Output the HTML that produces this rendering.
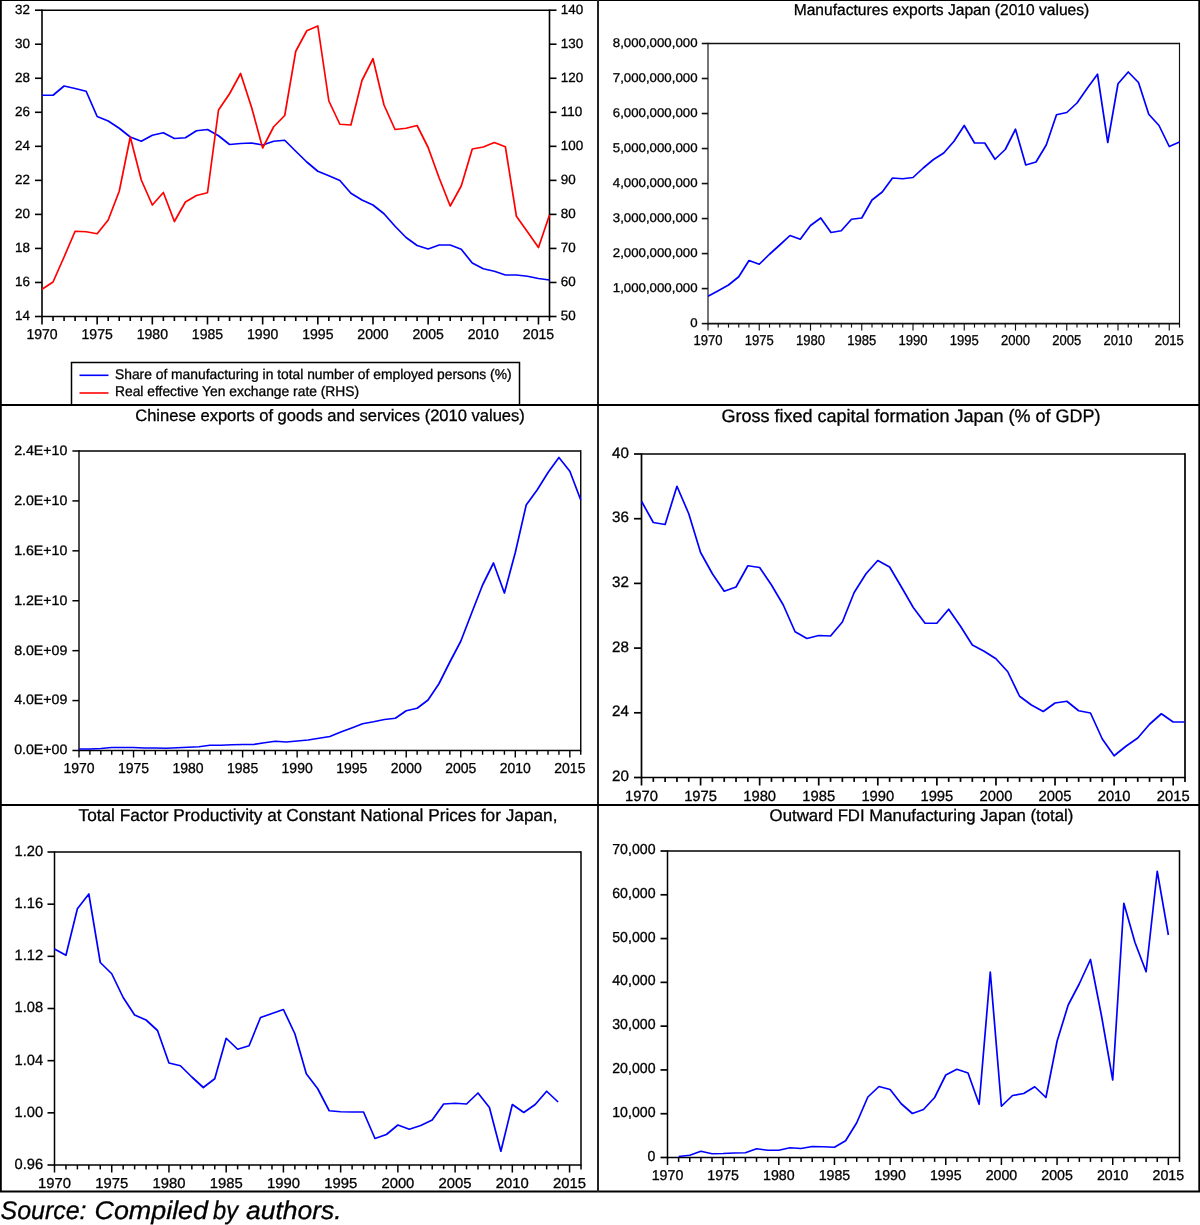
<!DOCTYPE html><html><head><meta charset="utf-8"><title>chart</title><style>
html,body{margin:0;padding:0;background:#fff;}body{width:1200px;height:1225px;overflow:hidden;position:relative;}
svg{position:absolute;left:0;top:0;will-change:transform;} text{font-family:"Liberation Sans", sans-serif;fill:#000;text-rendering:geometricPrecision;stroke:#000;stroke-width:0.3px;}
</style></head><body>
<svg width="1200" height="1225" viewBox="0 0 1200 1225">
<rect x="0" y="0" width="1200" height="1225" fill="#fff"/>
<line x1="42.00" y1="9.40" x2="42.00" y2="317.30" stroke="#000" stroke-width="1.6"/>
<line x1="549.50" y1="9.40" x2="549.50" y2="317.30" stroke="#000" stroke-width="1.6"/>
<line x1="42.00" y1="10.20" x2="549.50" y2="10.20" stroke="#000" stroke-width="1.6"/>
<line x1="42.00" y1="316.50" x2="549.50" y2="316.50" stroke="#000" stroke-width="1.6"/>
<line x1="35.00" y1="316.50" x2="42.00" y2="316.50" stroke="#000" stroke-width="1.6"/>
<text x="30.00" y="319.94" font-size="13.4" text-anchor="end" >14</text>
<line x1="35.00" y1="282.47" x2="42.00" y2="282.47" stroke="#000" stroke-width="1.6"/>
<text x="30.00" y="285.91" font-size="13.4" text-anchor="end" >16</text>
<line x1="35.00" y1="248.43" x2="42.00" y2="248.43" stroke="#000" stroke-width="1.6"/>
<text x="30.00" y="251.88" font-size="13.4" text-anchor="end" >18</text>
<line x1="35.00" y1="214.40" x2="42.00" y2="214.40" stroke="#000" stroke-width="1.6"/>
<text x="30.00" y="217.84" font-size="13.4" text-anchor="end" >20</text>
<line x1="35.00" y1="180.37" x2="42.00" y2="180.37" stroke="#000" stroke-width="1.6"/>
<text x="30.00" y="183.81" font-size="13.4" text-anchor="end" >22</text>
<line x1="35.00" y1="146.33" x2="42.00" y2="146.33" stroke="#000" stroke-width="1.6"/>
<text x="30.00" y="149.78" font-size="13.4" text-anchor="end" >24</text>
<line x1="35.00" y1="112.30" x2="42.00" y2="112.30" stroke="#000" stroke-width="1.6"/>
<text x="30.00" y="115.74" font-size="13.4" text-anchor="end" >26</text>
<line x1="35.00" y1="78.27" x2="42.00" y2="78.27" stroke="#000" stroke-width="1.6"/>
<text x="30.00" y="81.71" font-size="13.4" text-anchor="end" >28</text>
<line x1="35.00" y1="44.23" x2="42.00" y2="44.23" stroke="#000" stroke-width="1.6"/>
<text x="30.00" y="47.68" font-size="13.4" text-anchor="end" >30</text>
<line x1="35.00" y1="10.20" x2="42.00" y2="10.20" stroke="#000" stroke-width="1.6"/>
<text x="30.00" y="13.64" font-size="13.4" text-anchor="end" >32</text>
<line x1="549.50" y1="316.50" x2="556.50" y2="316.50" stroke="#000" stroke-width="1.6"/>
<text x="560.80" y="319.94" font-size="13.4" text-anchor="start" >50</text>
<line x1="549.50" y1="282.47" x2="556.50" y2="282.47" stroke="#000" stroke-width="1.6"/>
<text x="560.80" y="285.91" font-size="13.4" text-anchor="start" >60</text>
<line x1="549.50" y1="248.43" x2="556.50" y2="248.43" stroke="#000" stroke-width="1.6"/>
<text x="560.80" y="251.88" font-size="13.4" text-anchor="start" >70</text>
<line x1="549.50" y1="214.40" x2="556.50" y2="214.40" stroke="#000" stroke-width="1.6"/>
<text x="560.80" y="217.84" font-size="13.4" text-anchor="start" >80</text>
<line x1="549.50" y1="180.37" x2="556.50" y2="180.37" stroke="#000" stroke-width="1.6"/>
<text x="560.80" y="183.81" font-size="13.4" text-anchor="start" >90</text>
<line x1="549.50" y1="146.33" x2="556.50" y2="146.33" stroke="#000" stroke-width="1.6"/>
<text x="560.80" y="149.78" font-size="13.4" text-anchor="start" >100</text>
<line x1="549.50" y1="112.30" x2="556.50" y2="112.30" stroke="#000" stroke-width="1.6"/>
<text x="560.80" y="115.74" font-size="13.4" text-anchor="start" >110</text>
<line x1="549.50" y1="78.27" x2="556.50" y2="78.27" stroke="#000" stroke-width="1.6"/>
<text x="560.80" y="81.71" font-size="13.4" text-anchor="start" >120</text>
<line x1="549.50" y1="44.23" x2="556.50" y2="44.23" stroke="#000" stroke-width="1.6"/>
<text x="560.80" y="47.68" font-size="13.4" text-anchor="start" >130</text>
<line x1="549.50" y1="10.20" x2="556.50" y2="10.20" stroke="#000" stroke-width="1.6"/>
<text x="560.80" y="13.64" font-size="13.4" text-anchor="start" >140</text>
<line x1="42.00" y1="316.50" x2="42.00" y2="324.50" stroke="#000" stroke-width="1.6"/>
<text transform="translate(42.00,339.00) scale(0.99,1)" font-size="14.2" text-anchor="middle" >1970</text>
<line x1="53.03" y1="316.50" x2="53.03" y2="321.00" stroke="#000" stroke-width="1.6"/>
<line x1="64.07" y1="316.50" x2="64.07" y2="321.00" stroke="#000" stroke-width="1.6"/>
<line x1="75.10" y1="316.50" x2="75.10" y2="321.00" stroke="#000" stroke-width="1.6"/>
<line x1="86.13" y1="316.50" x2="86.13" y2="321.00" stroke="#000" stroke-width="1.6"/>
<line x1="97.16" y1="316.50" x2="97.16" y2="324.50" stroke="#000" stroke-width="1.6"/>
<text transform="translate(97.16,339.00) scale(0.99,1)" font-size="14.2" text-anchor="middle" >1975</text>
<line x1="108.20" y1="316.50" x2="108.20" y2="321.00" stroke="#000" stroke-width="1.6"/>
<line x1="119.23" y1="316.50" x2="119.23" y2="321.00" stroke="#000" stroke-width="1.6"/>
<line x1="130.26" y1="316.50" x2="130.26" y2="321.00" stroke="#000" stroke-width="1.6"/>
<line x1="141.29" y1="316.50" x2="141.29" y2="321.00" stroke="#000" stroke-width="1.6"/>
<line x1="152.33" y1="316.50" x2="152.33" y2="324.50" stroke="#000" stroke-width="1.6"/>
<text transform="translate(152.33,339.00) scale(0.99,1)" font-size="14.2" text-anchor="middle" >1980</text>
<line x1="163.36" y1="316.50" x2="163.36" y2="321.00" stroke="#000" stroke-width="1.6"/>
<line x1="174.39" y1="316.50" x2="174.39" y2="321.00" stroke="#000" stroke-width="1.6"/>
<line x1="185.42" y1="316.50" x2="185.42" y2="321.00" stroke="#000" stroke-width="1.6"/>
<line x1="196.46" y1="316.50" x2="196.46" y2="321.00" stroke="#000" stroke-width="1.6"/>
<line x1="207.49" y1="316.50" x2="207.49" y2="324.50" stroke="#000" stroke-width="1.6"/>
<text transform="translate(207.49,339.00) scale(0.99,1)" font-size="14.2" text-anchor="middle" >1985</text>
<line x1="218.52" y1="316.50" x2="218.52" y2="321.00" stroke="#000" stroke-width="1.6"/>
<line x1="229.55" y1="316.50" x2="229.55" y2="321.00" stroke="#000" stroke-width="1.6"/>
<line x1="240.59" y1="316.50" x2="240.59" y2="321.00" stroke="#000" stroke-width="1.6"/>
<line x1="251.62" y1="316.50" x2="251.62" y2="321.00" stroke="#000" stroke-width="1.6"/>
<line x1="262.65" y1="316.50" x2="262.65" y2="324.50" stroke="#000" stroke-width="1.6"/>
<text transform="translate(262.65,339.00) scale(0.99,1)" font-size="14.2" text-anchor="middle" >1990</text>
<line x1="273.68" y1="316.50" x2="273.68" y2="321.00" stroke="#000" stroke-width="1.6"/>
<line x1="284.72" y1="316.50" x2="284.72" y2="321.00" stroke="#000" stroke-width="1.6"/>
<line x1="295.75" y1="316.50" x2="295.75" y2="321.00" stroke="#000" stroke-width="1.6"/>
<line x1="306.78" y1="316.50" x2="306.78" y2="321.00" stroke="#000" stroke-width="1.6"/>
<line x1="317.82" y1="316.50" x2="317.82" y2="324.50" stroke="#000" stroke-width="1.6"/>
<text transform="translate(317.82,339.00) scale(0.99,1)" font-size="14.2" text-anchor="middle" >1995</text>
<line x1="328.85" y1="316.50" x2="328.85" y2="321.00" stroke="#000" stroke-width="1.6"/>
<line x1="339.88" y1="316.50" x2="339.88" y2="321.00" stroke="#000" stroke-width="1.6"/>
<line x1="350.91" y1="316.50" x2="350.91" y2="321.00" stroke="#000" stroke-width="1.6"/>
<line x1="361.95" y1="316.50" x2="361.95" y2="321.00" stroke="#000" stroke-width="1.6"/>
<line x1="372.98" y1="316.50" x2="372.98" y2="324.50" stroke="#000" stroke-width="1.6"/>
<text transform="translate(372.98,339.00) scale(0.99,1)" font-size="14.2" text-anchor="middle" >2000</text>
<line x1="384.01" y1="316.50" x2="384.01" y2="321.00" stroke="#000" stroke-width="1.6"/>
<line x1="395.04" y1="316.50" x2="395.04" y2="321.00" stroke="#000" stroke-width="1.6"/>
<line x1="406.08" y1="316.50" x2="406.08" y2="321.00" stroke="#000" stroke-width="1.6"/>
<line x1="417.11" y1="316.50" x2="417.11" y2="321.00" stroke="#000" stroke-width="1.6"/>
<line x1="428.14" y1="316.50" x2="428.14" y2="324.50" stroke="#000" stroke-width="1.6"/>
<text transform="translate(428.14,339.00) scale(0.99,1)" font-size="14.2" text-anchor="middle" >2005</text>
<line x1="439.17" y1="316.50" x2="439.17" y2="321.00" stroke="#000" stroke-width="1.6"/>
<line x1="450.21" y1="316.50" x2="450.21" y2="321.00" stroke="#000" stroke-width="1.6"/>
<line x1="461.24" y1="316.50" x2="461.24" y2="321.00" stroke="#000" stroke-width="1.6"/>
<line x1="472.27" y1="316.50" x2="472.27" y2="321.00" stroke="#000" stroke-width="1.6"/>
<line x1="483.30" y1="316.50" x2="483.30" y2="324.50" stroke="#000" stroke-width="1.6"/>
<text transform="translate(483.30,339.00) scale(0.99,1)" font-size="14.2" text-anchor="middle" >2010</text>
<line x1="494.34" y1="316.50" x2="494.34" y2="321.00" stroke="#000" stroke-width="1.6"/>
<line x1="505.37" y1="316.50" x2="505.37" y2="321.00" stroke="#000" stroke-width="1.6"/>
<line x1="516.40" y1="316.50" x2="516.40" y2="321.00" stroke="#000" stroke-width="1.6"/>
<line x1="527.43" y1="316.50" x2="527.43" y2="321.00" stroke="#000" stroke-width="1.6"/>
<line x1="538.47" y1="316.50" x2="538.47" y2="324.50" stroke="#000" stroke-width="1.6"/>
<text transform="translate(538.47,339.00) scale(0.99,1)" font-size="14.2" text-anchor="middle" >2015</text>
<line x1="549.50" y1="316.50" x2="549.50" y2="321.00" stroke="#000" stroke-width="1.6"/>
<polyline points="42.00,95.25 53.03,95.25 64.07,86.00 75.10,88.50 86.13,91.25 97.16,116.50 108.20,121.00 119.23,128.25 130.26,137.00 141.29,141.25 152.33,135.25 163.36,132.75 174.39,138.50 185.42,137.75 196.46,130.75 207.49,129.50 218.52,135.75 229.55,144.50 240.59,143.50 251.62,143.00 262.65,145.00 273.68,141.25 284.72,140.25 295.75,151.25 306.78,162.00 317.82,171.25 328.85,175.75 339.88,180.50 350.91,193.25 361.95,200.00 372.98,205.00 384.01,213.75 395.04,226.25 406.08,237.50 417.11,245.50 428.14,249.00 439.17,245.00 450.21,245.00 461.24,249.25 472.27,263.00 483.30,268.75 494.34,271.25 505.37,275.00 516.40,275.00 527.43,276.25 538.47,278.50 549.50,280.00" fill="none" stroke="#0000ff" stroke-width="1.7" stroke-linejoin="round" stroke-linecap="butt"/>
<polyline points="42.00,289.25 53.03,282.00 64.07,257.00 75.10,231.25 86.13,231.75 97.16,233.75 108.20,220.00 119.23,191.25 130.26,137.00 141.29,180.00 152.33,205.00 163.36,192.50 174.39,221.50 185.42,202.00 196.46,195.50 207.49,192.75 218.52,110.00 229.55,93.75 240.59,73.50 251.62,107.50 262.65,148.00 273.68,126.75 284.72,115.50 295.75,51.25 306.78,30.75 317.82,26.00 328.85,101.00 339.88,124.25 350.91,125.00 361.95,80.50 372.98,58.75 384.01,105.00 395.04,129.50 406.08,128.25 417.11,125.50 428.14,147.50 439.17,178.00 450.21,206.00 461.24,186.00 472.27,149.00 483.30,147.00 494.34,142.50 505.37,146.75 516.40,216.25 527.43,231.75 538.47,247.50 549.50,215.00" fill="none" stroke="#ff0000" stroke-width="1.7" stroke-linejoin="round" stroke-linecap="butt"/>
<line x1="708.00" y1="42.70" x2="708.00" y2="324.40" stroke="#111" stroke-width="1.15"/>
<line x1="1179.50" y1="42.70" x2="1179.50" y2="324.40" stroke="#111" stroke-width="1.15"/>
<line x1="708.00" y1="43.50" x2="1179.50" y2="43.50" stroke="#111" stroke-width="1.6"/>
<line x1="708.00" y1="323.60" x2="1179.50" y2="323.60" stroke="#111" stroke-width="1.6"/>
<line x1="701.75" y1="323.60" x2="708.00" y2="323.60" stroke="#111" stroke-width="1.6"/>
<text transform="translate(697.55,327.30) scale(1.045,1)" font-size="12.7" text-anchor="end" >0</text>
<line x1="701.75" y1="288.59" x2="708.00" y2="288.59" stroke="#111" stroke-width="1.6"/>
<text transform="translate(697.55,292.28) scale(1.045,1)" font-size="12.7" text-anchor="end" >1,000,000,000</text>
<line x1="701.75" y1="253.58" x2="708.00" y2="253.58" stroke="#111" stroke-width="1.6"/>
<text transform="translate(697.55,257.27) scale(1.045,1)" font-size="12.7" text-anchor="end" >2,000,000,000</text>
<line x1="701.75" y1="218.56" x2="708.00" y2="218.56" stroke="#111" stroke-width="1.6"/>
<text transform="translate(697.55,222.26) scale(1.045,1)" font-size="12.7" text-anchor="end" >3,000,000,000</text>
<line x1="701.75" y1="183.55" x2="708.00" y2="183.55" stroke="#111" stroke-width="1.6"/>
<text transform="translate(697.55,187.25) scale(1.045,1)" font-size="12.7" text-anchor="end" >4,000,000,000</text>
<line x1="701.75" y1="148.54" x2="708.00" y2="148.54" stroke="#111" stroke-width="1.6"/>
<text transform="translate(697.55,152.23) scale(1.045,1)" font-size="12.7" text-anchor="end" >5,000,000,000</text>
<line x1="701.75" y1="113.53" x2="708.00" y2="113.53" stroke="#111" stroke-width="1.6"/>
<text transform="translate(697.55,117.22) scale(1.045,1)" font-size="12.7" text-anchor="end" >6,000,000,000</text>
<line x1="701.75" y1="78.51" x2="708.00" y2="78.51" stroke="#111" stroke-width="1.6"/>
<text transform="translate(697.55,82.21) scale(1.045,1)" font-size="12.7" text-anchor="end" >7,000,000,000</text>
<line x1="701.75" y1="43.50" x2="708.00" y2="43.50" stroke="#111" stroke-width="1.6"/>
<text transform="translate(697.55,47.20) scale(1.045,1)" font-size="12.7" text-anchor="end" >8,000,000,000</text>
<line x1="708.00" y1="323.60" x2="708.00" y2="330.60" stroke="#111" stroke-width="1.15"/>
<text transform="translate(708.00,344.50) scale(0.92,1)" font-size="14.2" text-anchor="middle" >1970</text>
<line x1="718.25" y1="323.60" x2="718.25" y2="327.60" stroke="#111" stroke-width="1.15"/>
<line x1="728.50" y1="323.60" x2="728.50" y2="327.60" stroke="#111" stroke-width="1.15"/>
<line x1="738.75" y1="323.60" x2="738.75" y2="327.60" stroke="#111" stroke-width="1.15"/>
<line x1="749.00" y1="323.60" x2="749.00" y2="327.60" stroke="#111" stroke-width="1.15"/>
<line x1="759.25" y1="323.60" x2="759.25" y2="330.60" stroke="#111" stroke-width="1.15"/>
<text transform="translate(759.25,344.50) scale(0.92,1)" font-size="14.2" text-anchor="middle" >1975</text>
<line x1="769.50" y1="323.60" x2="769.50" y2="327.60" stroke="#111" stroke-width="1.15"/>
<line x1="779.75" y1="323.60" x2="779.75" y2="327.60" stroke="#111" stroke-width="1.15"/>
<line x1="790.00" y1="323.60" x2="790.00" y2="327.60" stroke="#111" stroke-width="1.15"/>
<line x1="800.25" y1="323.60" x2="800.25" y2="327.60" stroke="#111" stroke-width="1.15"/>
<line x1="810.50" y1="323.60" x2="810.50" y2="330.60" stroke="#111" stroke-width="1.15"/>
<text transform="translate(810.50,344.50) scale(0.92,1)" font-size="14.2" text-anchor="middle" >1980</text>
<line x1="820.75" y1="323.60" x2="820.75" y2="327.60" stroke="#111" stroke-width="1.15"/>
<line x1="831.00" y1="323.60" x2="831.00" y2="327.60" stroke="#111" stroke-width="1.15"/>
<line x1="841.25" y1="323.60" x2="841.25" y2="327.60" stroke="#111" stroke-width="1.15"/>
<line x1="851.50" y1="323.60" x2="851.50" y2="327.60" stroke="#111" stroke-width="1.15"/>
<line x1="861.75" y1="323.60" x2="861.75" y2="330.60" stroke="#111" stroke-width="1.15"/>
<text transform="translate(861.75,344.50) scale(0.92,1)" font-size="14.2" text-anchor="middle" >1985</text>
<line x1="872.00" y1="323.60" x2="872.00" y2="327.60" stroke="#111" stroke-width="1.15"/>
<line x1="882.25" y1="323.60" x2="882.25" y2="327.60" stroke="#111" stroke-width="1.15"/>
<line x1="892.50" y1="323.60" x2="892.50" y2="327.60" stroke="#111" stroke-width="1.15"/>
<line x1="902.75" y1="323.60" x2="902.75" y2="327.60" stroke="#111" stroke-width="1.15"/>
<line x1="913.00" y1="323.60" x2="913.00" y2="330.60" stroke="#111" stroke-width="1.15"/>
<text transform="translate(913.00,344.50) scale(0.92,1)" font-size="14.2" text-anchor="middle" >1990</text>
<line x1="923.25" y1="323.60" x2="923.25" y2="327.60" stroke="#111" stroke-width="1.15"/>
<line x1="933.50" y1="323.60" x2="933.50" y2="327.60" stroke="#111" stroke-width="1.15"/>
<line x1="943.75" y1="323.60" x2="943.75" y2="327.60" stroke="#111" stroke-width="1.15"/>
<line x1="954.00" y1="323.60" x2="954.00" y2="327.60" stroke="#111" stroke-width="1.15"/>
<line x1="964.25" y1="323.60" x2="964.25" y2="330.60" stroke="#111" stroke-width="1.15"/>
<text transform="translate(964.25,344.50) scale(0.92,1)" font-size="14.2" text-anchor="middle" >1995</text>
<line x1="974.50" y1="323.60" x2="974.50" y2="327.60" stroke="#111" stroke-width="1.15"/>
<line x1="984.75" y1="323.60" x2="984.75" y2="327.60" stroke="#111" stroke-width="1.15"/>
<line x1="995.00" y1="323.60" x2="995.00" y2="327.60" stroke="#111" stroke-width="1.15"/>
<line x1="1005.25" y1="323.60" x2="1005.25" y2="327.60" stroke="#111" stroke-width="1.15"/>
<line x1="1015.50" y1="323.60" x2="1015.50" y2="330.60" stroke="#111" stroke-width="1.15"/>
<text transform="translate(1015.50,344.50) scale(0.92,1)" font-size="14.2" text-anchor="middle" >2000</text>
<line x1="1025.75" y1="323.60" x2="1025.75" y2="327.60" stroke="#111" stroke-width="1.15"/>
<line x1="1036.00" y1="323.60" x2="1036.00" y2="327.60" stroke="#111" stroke-width="1.15"/>
<line x1="1046.25" y1="323.60" x2="1046.25" y2="327.60" stroke="#111" stroke-width="1.15"/>
<line x1="1056.50" y1="323.60" x2="1056.50" y2="327.60" stroke="#111" stroke-width="1.15"/>
<line x1="1066.75" y1="323.60" x2="1066.75" y2="330.60" stroke="#111" stroke-width="1.15"/>
<text transform="translate(1066.75,344.50) scale(0.92,1)" font-size="14.2" text-anchor="middle" >2005</text>
<line x1="1077.00" y1="323.60" x2="1077.00" y2="327.60" stroke="#111" stroke-width="1.15"/>
<line x1="1087.25" y1="323.60" x2="1087.25" y2="327.60" stroke="#111" stroke-width="1.15"/>
<line x1="1097.50" y1="323.60" x2="1097.50" y2="327.60" stroke="#111" stroke-width="1.15"/>
<line x1="1107.75" y1="323.60" x2="1107.75" y2="327.60" stroke="#111" stroke-width="1.15"/>
<line x1="1118.00" y1="323.60" x2="1118.00" y2="330.60" stroke="#111" stroke-width="1.15"/>
<text transform="translate(1118.00,344.50) scale(0.92,1)" font-size="14.2" text-anchor="middle" >2010</text>
<line x1="1128.25" y1="323.60" x2="1128.25" y2="327.60" stroke="#111" stroke-width="1.15"/>
<line x1="1138.50" y1="323.60" x2="1138.50" y2="327.60" stroke="#111" stroke-width="1.15"/>
<line x1="1148.75" y1="323.60" x2="1148.75" y2="327.60" stroke="#111" stroke-width="1.15"/>
<line x1="1159.00" y1="323.60" x2="1159.00" y2="327.60" stroke="#111" stroke-width="1.15"/>
<line x1="1169.25" y1="323.60" x2="1169.25" y2="330.60" stroke="#111" stroke-width="1.15"/>
<text transform="translate(1169.25,344.50) scale(0.92,1)" font-size="14.2" text-anchor="middle" >2015</text>
<line x1="1179.50" y1="323.60" x2="1179.50" y2="327.60" stroke="#111" stroke-width="1.15"/>
<text x="941.50" y="14.70" font-size="15.6" text-anchor="middle" >Manufactures exports Japan (2010 values)</text>
<polyline points="708.00,296.25 718.25,290.75 728.50,285.00 738.75,276.75 749.00,260.50 759.25,264.25 769.50,254.25 779.75,245.00 790.00,235.50 800.25,239.25 810.50,225.50 820.75,218.00 831.00,232.50 841.25,230.75 851.50,219.25 861.75,218.00 872.00,200.00 882.25,192.00 892.50,178.00 902.75,178.75 913.00,177.50 923.25,168.00 933.50,159.50 943.75,153.00 954.00,141.25 964.25,125.50 974.50,143.00 984.75,143.00 995.00,159.25 1005.25,149.50 1015.50,129.25 1025.75,165.00 1036.00,162.00 1046.25,145.00 1056.50,114.75 1066.75,112.50 1077.00,103.00 1087.25,88.25 1097.50,74.25 1107.75,142.50 1118.00,83.75 1128.25,72.00 1138.50,82.50 1148.75,114.25 1159.00,125.50 1169.25,146.50 1179.50,142.00" fill="none" stroke="#0000ff" stroke-width="1.7" stroke-linejoin="round" stroke-linecap="butt"/>
<line x1="79.00" y1="450.25" x2="79.00" y2="751.25" stroke="#000" stroke-width="1.4"/>
<line x1="580.75" y1="450.25" x2="580.75" y2="751.25" stroke="#000" stroke-width="1.4"/>
<line x1="79.00" y1="451.00" x2="580.75" y2="451.00" stroke="#000" stroke-width="1.5"/>
<line x1="79.00" y1="750.50" x2="580.75" y2="750.50" stroke="#000" stroke-width="1.5"/>
<line x1="72.40" y1="750.50" x2="79.00" y2="750.50" stroke="#000" stroke-width="1.5"/>
<text transform="translate(67.40,754.33) scale(1.04,1)" font-size="13.65" text-anchor="end" >0.0E+00</text>
<line x1="72.40" y1="700.58" x2="79.00" y2="700.58" stroke="#000" stroke-width="1.5"/>
<text transform="translate(67.40,704.42) scale(1.04,1)" font-size="13.65" text-anchor="end" >4.0E+09</text>
<line x1="72.40" y1="650.67" x2="79.00" y2="650.67" stroke="#000" stroke-width="1.5"/>
<text transform="translate(67.40,654.50) scale(1.04,1)" font-size="13.65" text-anchor="end" >8.0E+09</text>
<line x1="72.40" y1="600.75" x2="79.00" y2="600.75" stroke="#000" stroke-width="1.5"/>
<text transform="translate(67.40,604.58) scale(1.04,1)" font-size="13.65" text-anchor="end" >1.2E+10</text>
<line x1="72.40" y1="550.83" x2="79.00" y2="550.83" stroke="#000" stroke-width="1.5"/>
<text transform="translate(67.40,554.67) scale(1.04,1)" font-size="13.65" text-anchor="end" >1.6E+10</text>
<line x1="72.40" y1="500.92" x2="79.00" y2="500.92" stroke="#000" stroke-width="1.5"/>
<text transform="translate(67.40,504.75) scale(1.04,1)" font-size="13.65" text-anchor="end" >2.0E+10</text>
<line x1="72.40" y1="451.00" x2="79.00" y2="451.00" stroke="#000" stroke-width="1.5"/>
<text transform="translate(67.40,454.83) scale(1.04,1)" font-size="13.65" text-anchor="end" >2.4E+10</text>
<line x1="79.00" y1="750.50" x2="79.00" y2="757.50" stroke="#000" stroke-width="1.4"/>
<text transform="translate(79.00,772.50) scale(0.965,1)" font-size="14.5" text-anchor="middle" >1970</text>
<line x1="89.91" y1="750.50" x2="89.91" y2="754.75" stroke="#000" stroke-width="1.4"/>
<line x1="100.82" y1="750.50" x2="100.82" y2="754.75" stroke="#000" stroke-width="1.4"/>
<line x1="111.72" y1="750.50" x2="111.72" y2="754.75" stroke="#000" stroke-width="1.4"/>
<line x1="122.63" y1="750.50" x2="122.63" y2="754.75" stroke="#000" stroke-width="1.4"/>
<line x1="133.54" y1="750.50" x2="133.54" y2="757.50" stroke="#000" stroke-width="1.4"/>
<text transform="translate(133.54,772.50) scale(0.965,1)" font-size="14.5" text-anchor="middle" >1975</text>
<line x1="144.45" y1="750.50" x2="144.45" y2="754.75" stroke="#000" stroke-width="1.4"/>
<line x1="155.35" y1="750.50" x2="155.35" y2="754.75" stroke="#000" stroke-width="1.4"/>
<line x1="166.26" y1="750.50" x2="166.26" y2="754.75" stroke="#000" stroke-width="1.4"/>
<line x1="177.17" y1="750.50" x2="177.17" y2="754.75" stroke="#000" stroke-width="1.4"/>
<line x1="188.08" y1="750.50" x2="188.08" y2="757.50" stroke="#000" stroke-width="1.4"/>
<text transform="translate(188.08,772.50) scale(0.965,1)" font-size="14.5" text-anchor="middle" >1980</text>
<line x1="198.98" y1="750.50" x2="198.98" y2="754.75" stroke="#000" stroke-width="1.4"/>
<line x1="209.89" y1="750.50" x2="209.89" y2="754.75" stroke="#000" stroke-width="1.4"/>
<line x1="220.80" y1="750.50" x2="220.80" y2="754.75" stroke="#000" stroke-width="1.4"/>
<line x1="231.71" y1="750.50" x2="231.71" y2="754.75" stroke="#000" stroke-width="1.4"/>
<line x1="242.61" y1="750.50" x2="242.61" y2="757.50" stroke="#000" stroke-width="1.4"/>
<text transform="translate(242.61,772.50) scale(0.965,1)" font-size="14.5" text-anchor="middle" >1985</text>
<line x1="253.52" y1="750.50" x2="253.52" y2="754.75" stroke="#000" stroke-width="1.4"/>
<line x1="264.43" y1="750.50" x2="264.43" y2="754.75" stroke="#000" stroke-width="1.4"/>
<line x1="275.34" y1="750.50" x2="275.34" y2="754.75" stroke="#000" stroke-width="1.4"/>
<line x1="286.24" y1="750.50" x2="286.24" y2="754.75" stroke="#000" stroke-width="1.4"/>
<line x1="297.15" y1="750.50" x2="297.15" y2="757.50" stroke="#000" stroke-width="1.4"/>
<text transform="translate(297.15,772.50) scale(0.965,1)" font-size="14.5" text-anchor="middle" >1990</text>
<line x1="308.06" y1="750.50" x2="308.06" y2="754.75" stroke="#000" stroke-width="1.4"/>
<line x1="318.97" y1="750.50" x2="318.97" y2="754.75" stroke="#000" stroke-width="1.4"/>
<line x1="329.88" y1="750.50" x2="329.88" y2="754.75" stroke="#000" stroke-width="1.4"/>
<line x1="340.78" y1="750.50" x2="340.78" y2="754.75" stroke="#000" stroke-width="1.4"/>
<line x1="351.69" y1="750.50" x2="351.69" y2="757.50" stroke="#000" stroke-width="1.4"/>
<text transform="translate(351.69,772.50) scale(0.965,1)" font-size="14.5" text-anchor="middle" >1995</text>
<line x1="362.60" y1="750.50" x2="362.60" y2="754.75" stroke="#000" stroke-width="1.4"/>
<line x1="373.51" y1="750.50" x2="373.51" y2="754.75" stroke="#000" stroke-width="1.4"/>
<line x1="384.41" y1="750.50" x2="384.41" y2="754.75" stroke="#000" stroke-width="1.4"/>
<line x1="395.32" y1="750.50" x2="395.32" y2="754.75" stroke="#000" stroke-width="1.4"/>
<line x1="406.23" y1="750.50" x2="406.23" y2="757.50" stroke="#000" stroke-width="1.4"/>
<text transform="translate(406.23,772.50) scale(0.965,1)" font-size="14.5" text-anchor="middle" >2000</text>
<line x1="417.14" y1="750.50" x2="417.14" y2="754.75" stroke="#000" stroke-width="1.4"/>
<line x1="428.04" y1="750.50" x2="428.04" y2="754.75" stroke="#000" stroke-width="1.4"/>
<line x1="438.95" y1="750.50" x2="438.95" y2="754.75" stroke="#000" stroke-width="1.4"/>
<line x1="449.86" y1="750.50" x2="449.86" y2="754.75" stroke="#000" stroke-width="1.4"/>
<line x1="460.77" y1="750.50" x2="460.77" y2="757.50" stroke="#000" stroke-width="1.4"/>
<text transform="translate(460.77,772.50) scale(0.965,1)" font-size="14.5" text-anchor="middle" >2005</text>
<line x1="471.67" y1="750.50" x2="471.67" y2="754.75" stroke="#000" stroke-width="1.4"/>
<line x1="482.58" y1="750.50" x2="482.58" y2="754.75" stroke="#000" stroke-width="1.4"/>
<line x1="493.49" y1="750.50" x2="493.49" y2="754.75" stroke="#000" stroke-width="1.4"/>
<line x1="504.40" y1="750.50" x2="504.40" y2="754.75" stroke="#000" stroke-width="1.4"/>
<line x1="515.30" y1="750.50" x2="515.30" y2="757.50" stroke="#000" stroke-width="1.4"/>
<text transform="translate(515.30,772.50) scale(0.965,1)" font-size="14.5" text-anchor="middle" >2010</text>
<line x1="526.21" y1="750.50" x2="526.21" y2="754.75" stroke="#000" stroke-width="1.4"/>
<line x1="537.12" y1="750.50" x2="537.12" y2="754.75" stroke="#000" stroke-width="1.4"/>
<line x1="548.03" y1="750.50" x2="548.03" y2="754.75" stroke="#000" stroke-width="1.4"/>
<line x1="558.93" y1="750.50" x2="558.93" y2="754.75" stroke="#000" stroke-width="1.4"/>
<line x1="569.84" y1="750.50" x2="569.84" y2="757.50" stroke="#000" stroke-width="1.4"/>
<text transform="translate(569.84,772.50) scale(0.965,1)" font-size="14.5" text-anchor="middle" >2015</text>
<line x1="580.75" y1="750.50" x2="580.75" y2="754.75" stroke="#000" stroke-width="1.4"/>
<text x="330.00" y="421.00" font-size="16.55" text-anchor="middle" >Chinese exports of goods and services (2010 values)</text>
<polyline points="79.00,749.00 89.91,749.00 100.82,748.50 111.72,747.50 122.63,747.50 133.54,747.50 144.45,748.00 155.35,748.00 166.26,748.25 177.17,747.75 188.08,747.25 198.98,746.75 209.89,745.25 220.80,745.25 231.71,744.75 242.61,744.50 253.52,744.50 264.43,742.75 275.34,741.25 286.24,742.00 297.15,741.00 308.06,740.00 318.97,738.25 329.88,736.50 340.78,732.00 351.69,728.00 362.60,723.75 373.51,721.75 384.41,719.50 395.32,718.25 406.23,710.75 417.14,708.25 428.04,700.00 438.95,683.75 449.86,662.00 460.77,641.25 471.67,613.00 482.58,585.00 493.49,563.00 504.40,593.00 515.30,552.50 526.21,505.00 537.12,490.00 548.03,472.50 558.93,457.50 569.84,471.25 580.75,500.00" fill="none" stroke="#0000ff" stroke-width="1.7" stroke-linejoin="round" stroke-linecap="butt"/>
<line x1="641.50" y1="453.15" x2="641.50" y2="778.35" stroke="#000" stroke-width="1.7"/>
<line x1="1185.00" y1="453.15" x2="1185.00" y2="778.35" stroke="#000" stroke-width="1.7"/>
<line x1="641.50" y1="454.00" x2="1185.00" y2="454.00" stroke="#000" stroke-width="1.7"/>
<line x1="641.50" y1="777.50" x2="1185.00" y2="777.50" stroke="#000" stroke-width="1.7"/>
<line x1="634.00" y1="777.50" x2="641.50" y2="777.50" stroke="#000" stroke-width="1.7"/>
<text x="629.00" y="781.08" font-size="15.2" text-anchor="end" >20</text>
<line x1="634.00" y1="712.80" x2="641.50" y2="712.80" stroke="#000" stroke-width="1.7"/>
<text x="629.00" y="716.38" font-size="15.2" text-anchor="end" >24</text>
<line x1="634.00" y1="648.10" x2="641.50" y2="648.10" stroke="#000" stroke-width="1.7"/>
<text x="629.00" y="651.68" font-size="15.2" text-anchor="end" >28</text>
<line x1="634.00" y1="583.40" x2="641.50" y2="583.40" stroke="#000" stroke-width="1.7"/>
<text x="629.00" y="586.98" font-size="15.2" text-anchor="end" >32</text>
<line x1="634.00" y1="518.70" x2="641.50" y2="518.70" stroke="#000" stroke-width="1.7"/>
<text x="629.00" y="522.28" font-size="15.2" text-anchor="end" >36</text>
<line x1="634.00" y1="454.00" x2="641.50" y2="454.00" stroke="#000" stroke-width="1.7"/>
<text x="629.00" y="457.58" font-size="15.2" text-anchor="end" >40</text>
<line x1="641.50" y1="777.50" x2="641.50" y2="785.50" stroke="#000" stroke-width="1.7"/>
<text x="641.50" y="801.10" font-size="14.75" text-anchor="middle" >1970</text>
<line x1="653.32" y1="777.50" x2="653.32" y2="781.90" stroke="#000" stroke-width="1.7"/>
<line x1="665.13" y1="777.50" x2="665.13" y2="781.90" stroke="#000" stroke-width="1.7"/>
<line x1="676.95" y1="777.50" x2="676.95" y2="781.90" stroke="#000" stroke-width="1.7"/>
<line x1="688.76" y1="777.50" x2="688.76" y2="781.90" stroke="#000" stroke-width="1.7"/>
<line x1="700.58" y1="777.50" x2="700.58" y2="785.50" stroke="#000" stroke-width="1.7"/>
<text x="700.58" y="801.10" font-size="14.75" text-anchor="middle" >1975</text>
<line x1="712.39" y1="777.50" x2="712.39" y2="781.90" stroke="#000" stroke-width="1.7"/>
<line x1="724.21" y1="777.50" x2="724.21" y2="781.90" stroke="#000" stroke-width="1.7"/>
<line x1="736.02" y1="777.50" x2="736.02" y2="781.90" stroke="#000" stroke-width="1.7"/>
<line x1="747.84" y1="777.50" x2="747.84" y2="781.90" stroke="#000" stroke-width="1.7"/>
<line x1="759.65" y1="777.50" x2="759.65" y2="785.50" stroke="#000" stroke-width="1.7"/>
<text x="759.65" y="801.10" font-size="14.75" text-anchor="middle" >1980</text>
<line x1="771.47" y1="777.50" x2="771.47" y2="781.90" stroke="#000" stroke-width="1.7"/>
<line x1="783.28" y1="777.50" x2="783.28" y2="781.90" stroke="#000" stroke-width="1.7"/>
<line x1="795.10" y1="777.50" x2="795.10" y2="781.90" stroke="#000" stroke-width="1.7"/>
<line x1="806.91" y1="777.50" x2="806.91" y2="781.90" stroke="#000" stroke-width="1.7"/>
<line x1="818.73" y1="777.50" x2="818.73" y2="785.50" stroke="#000" stroke-width="1.7"/>
<text x="818.73" y="801.10" font-size="14.75" text-anchor="middle" >1985</text>
<line x1="830.54" y1="777.50" x2="830.54" y2="781.90" stroke="#000" stroke-width="1.7"/>
<line x1="842.36" y1="777.50" x2="842.36" y2="781.90" stroke="#000" stroke-width="1.7"/>
<line x1="854.17" y1="777.50" x2="854.17" y2="781.90" stroke="#000" stroke-width="1.7"/>
<line x1="865.99" y1="777.50" x2="865.99" y2="781.90" stroke="#000" stroke-width="1.7"/>
<line x1="877.80" y1="777.50" x2="877.80" y2="785.50" stroke="#000" stroke-width="1.7"/>
<text x="877.80" y="801.10" font-size="14.75" text-anchor="middle" >1990</text>
<line x1="889.62" y1="777.50" x2="889.62" y2="781.90" stroke="#000" stroke-width="1.7"/>
<line x1="901.43" y1="777.50" x2="901.43" y2="781.90" stroke="#000" stroke-width="1.7"/>
<line x1="913.25" y1="777.50" x2="913.25" y2="781.90" stroke="#000" stroke-width="1.7"/>
<line x1="925.07" y1="777.50" x2="925.07" y2="781.90" stroke="#000" stroke-width="1.7"/>
<line x1="936.88" y1="777.50" x2="936.88" y2="785.50" stroke="#000" stroke-width="1.7"/>
<text x="936.88" y="801.10" font-size="14.75" text-anchor="middle" >1995</text>
<line x1="948.70" y1="777.50" x2="948.70" y2="781.90" stroke="#000" stroke-width="1.7"/>
<line x1="960.51" y1="777.50" x2="960.51" y2="781.90" stroke="#000" stroke-width="1.7"/>
<line x1="972.33" y1="777.50" x2="972.33" y2="781.90" stroke="#000" stroke-width="1.7"/>
<line x1="984.14" y1="777.50" x2="984.14" y2="781.90" stroke="#000" stroke-width="1.7"/>
<line x1="995.96" y1="777.50" x2="995.96" y2="785.50" stroke="#000" stroke-width="1.7"/>
<text x="995.96" y="801.10" font-size="14.75" text-anchor="middle" >2000</text>
<line x1="1007.77" y1="777.50" x2="1007.77" y2="781.90" stroke="#000" stroke-width="1.7"/>
<line x1="1019.59" y1="777.50" x2="1019.59" y2="781.90" stroke="#000" stroke-width="1.7"/>
<line x1="1031.40" y1="777.50" x2="1031.40" y2="781.90" stroke="#000" stroke-width="1.7"/>
<line x1="1043.22" y1="777.50" x2="1043.22" y2="781.90" stroke="#000" stroke-width="1.7"/>
<line x1="1055.03" y1="777.50" x2="1055.03" y2="785.50" stroke="#000" stroke-width="1.7"/>
<text x="1055.03" y="801.10" font-size="14.75" text-anchor="middle" >2005</text>
<line x1="1066.85" y1="777.50" x2="1066.85" y2="781.90" stroke="#000" stroke-width="1.7"/>
<line x1="1078.66" y1="777.50" x2="1078.66" y2="781.90" stroke="#000" stroke-width="1.7"/>
<line x1="1090.48" y1="777.50" x2="1090.48" y2="781.90" stroke="#000" stroke-width="1.7"/>
<line x1="1102.29" y1="777.50" x2="1102.29" y2="781.90" stroke="#000" stroke-width="1.7"/>
<line x1="1114.11" y1="777.50" x2="1114.11" y2="785.50" stroke="#000" stroke-width="1.7"/>
<text x="1114.11" y="801.10" font-size="14.75" text-anchor="middle" >2010</text>
<line x1="1125.92" y1="777.50" x2="1125.92" y2="781.90" stroke="#000" stroke-width="1.7"/>
<line x1="1137.74" y1="777.50" x2="1137.74" y2="781.90" stroke="#000" stroke-width="1.7"/>
<line x1="1149.55" y1="777.50" x2="1149.55" y2="781.90" stroke="#000" stroke-width="1.7"/>
<line x1="1161.37" y1="777.50" x2="1161.37" y2="781.90" stroke="#000" stroke-width="1.7"/>
<line x1="1173.18" y1="777.50" x2="1173.18" y2="785.50" stroke="#000" stroke-width="1.7"/>
<text x="1173.18" y="801.10" font-size="14.75" text-anchor="middle" >2015</text>
<line x1="1185.00" y1="777.50" x2="1185.00" y2="781.90" stroke="#000" stroke-width="1.7"/>
<text x="911.00" y="422.00" font-size="18.0" text-anchor="middle" >Gross fixed capital formation Japan (% of GDP)</text>
<polyline points="641.50,501.25 653.32,522.50 665.13,524.50 676.95,486.25 688.76,513.75 700.58,552.50 712.39,573.75 724.21,591.25 736.02,587.00 747.84,565.75 759.65,567.50 771.47,585.00 783.28,605.00 795.10,631.75 806.91,638.50 818.73,635.50 830.54,636.00 842.36,622.00 854.17,592.50 865.99,573.75 877.80,560.50 889.62,567.00 901.43,587.00 913.25,607.50 925.07,623.25 936.88,623.25 948.70,609.25 960.51,626.25 972.33,645.00 984.14,651.25 995.96,658.75 1007.77,671.75 1019.59,696.25 1031.40,705.00 1043.22,711.50 1055.03,703.00 1066.85,701.25 1078.66,710.75 1090.48,713.00 1102.29,739.00 1114.11,755.75 1125.92,746.25 1137.74,738.00 1149.55,724.25 1161.37,713.75 1173.18,722.00 1185.00,722.00" fill="none" stroke="#0000ff" stroke-width="1.7" stroke-linejoin="round" stroke-linecap="butt"/>
<line x1="54.50" y1="851.20" x2="54.50" y2="1165.80" stroke="#000" stroke-width="1.5"/>
<line x1="581.00" y1="851.20" x2="581.00" y2="1165.80" stroke="#000" stroke-width="1.5"/>
<line x1="54.50" y1="852.00" x2="581.00" y2="852.00" stroke="#000" stroke-width="1.6"/>
<line x1="54.50" y1="1165.00" x2="581.00" y2="1165.00" stroke="#000" stroke-width="1.6"/>
<line x1="47.50" y1="1165.00" x2="54.50" y2="1165.00" stroke="#000" stroke-width="1.6"/>
<text transform="translate(43.10,1168.84) scale(0.99,1)" font-size="14.8" text-anchor="end" >0.96</text>
<line x1="47.50" y1="1112.83" x2="54.50" y2="1112.83" stroke="#000" stroke-width="1.6"/>
<text transform="translate(43.10,1116.67) scale(0.99,1)" font-size="14.8" text-anchor="end" >1.00</text>
<line x1="47.50" y1="1060.67" x2="54.50" y2="1060.67" stroke="#000" stroke-width="1.6"/>
<text transform="translate(43.10,1064.51) scale(0.99,1)" font-size="14.8" text-anchor="end" >1.04</text>
<line x1="47.50" y1="1008.50" x2="54.50" y2="1008.50" stroke="#000" stroke-width="1.6"/>
<text transform="translate(43.10,1012.34) scale(0.99,1)" font-size="14.8" text-anchor="end" >1.08</text>
<line x1="47.50" y1="956.33" x2="54.50" y2="956.33" stroke="#000" stroke-width="1.6"/>
<text transform="translate(43.10,960.17) scale(0.99,1)" font-size="14.8" text-anchor="end" >1.12</text>
<line x1="47.50" y1="904.17" x2="54.50" y2="904.17" stroke="#000" stroke-width="1.6"/>
<text transform="translate(43.10,908.01) scale(0.99,1)" font-size="14.8" text-anchor="end" >1.16</text>
<line x1="47.50" y1="852.00" x2="54.50" y2="852.00" stroke="#000" stroke-width="1.6"/>
<text transform="translate(43.10,855.84) scale(0.99,1)" font-size="14.8" text-anchor="end" >1.20</text>
<line x1="54.50" y1="1165.00" x2="54.50" y2="1172.50" stroke="#000" stroke-width="1.5"/>
<text transform="translate(54.50,1188.20) scale(1.03,1)" font-size="14.4" text-anchor="middle" >1970</text>
<line x1="65.95" y1="1165.00" x2="65.95" y2="1169.40" stroke="#000" stroke-width="1.5"/>
<line x1="77.39" y1="1165.00" x2="77.39" y2="1169.40" stroke="#000" stroke-width="1.5"/>
<line x1="88.84" y1="1165.00" x2="88.84" y2="1169.40" stroke="#000" stroke-width="1.5"/>
<line x1="100.28" y1="1165.00" x2="100.28" y2="1169.40" stroke="#000" stroke-width="1.5"/>
<line x1="111.73" y1="1165.00" x2="111.73" y2="1172.50" stroke="#000" stroke-width="1.5"/>
<text transform="translate(111.73,1188.20) scale(1.03,1)" font-size="14.4" text-anchor="middle" >1975</text>
<line x1="123.17" y1="1165.00" x2="123.17" y2="1169.40" stroke="#000" stroke-width="1.5"/>
<line x1="134.62" y1="1165.00" x2="134.62" y2="1169.40" stroke="#000" stroke-width="1.5"/>
<line x1="146.07" y1="1165.00" x2="146.07" y2="1169.40" stroke="#000" stroke-width="1.5"/>
<line x1="157.51" y1="1165.00" x2="157.51" y2="1169.40" stroke="#000" stroke-width="1.5"/>
<line x1="168.96" y1="1165.00" x2="168.96" y2="1172.50" stroke="#000" stroke-width="1.5"/>
<text transform="translate(168.96,1188.20) scale(1.03,1)" font-size="14.4" text-anchor="middle" >1980</text>
<line x1="180.40" y1="1165.00" x2="180.40" y2="1169.40" stroke="#000" stroke-width="1.5"/>
<line x1="191.85" y1="1165.00" x2="191.85" y2="1169.40" stroke="#000" stroke-width="1.5"/>
<line x1="203.29" y1="1165.00" x2="203.29" y2="1169.40" stroke="#000" stroke-width="1.5"/>
<line x1="214.74" y1="1165.00" x2="214.74" y2="1169.40" stroke="#000" stroke-width="1.5"/>
<line x1="226.18" y1="1165.00" x2="226.18" y2="1172.50" stroke="#000" stroke-width="1.5"/>
<text transform="translate(226.18,1188.20) scale(1.03,1)" font-size="14.4" text-anchor="middle" >1985</text>
<line x1="237.63" y1="1165.00" x2="237.63" y2="1169.40" stroke="#000" stroke-width="1.5"/>
<line x1="249.08" y1="1165.00" x2="249.08" y2="1169.40" stroke="#000" stroke-width="1.5"/>
<line x1="260.52" y1="1165.00" x2="260.52" y2="1169.40" stroke="#000" stroke-width="1.5"/>
<line x1="271.97" y1="1165.00" x2="271.97" y2="1169.40" stroke="#000" stroke-width="1.5"/>
<line x1="283.41" y1="1165.00" x2="283.41" y2="1172.50" stroke="#000" stroke-width="1.5"/>
<text transform="translate(283.41,1188.20) scale(1.03,1)" font-size="14.4" text-anchor="middle" >1990</text>
<line x1="294.86" y1="1165.00" x2="294.86" y2="1169.40" stroke="#000" stroke-width="1.5"/>
<line x1="306.30" y1="1165.00" x2="306.30" y2="1169.40" stroke="#000" stroke-width="1.5"/>
<line x1="317.75" y1="1165.00" x2="317.75" y2="1169.40" stroke="#000" stroke-width="1.5"/>
<line x1="329.20" y1="1165.00" x2="329.20" y2="1169.40" stroke="#000" stroke-width="1.5"/>
<line x1="340.64" y1="1165.00" x2="340.64" y2="1172.50" stroke="#000" stroke-width="1.5"/>
<text transform="translate(340.64,1188.20) scale(1.03,1)" font-size="14.4" text-anchor="middle" >1995</text>
<line x1="352.09" y1="1165.00" x2="352.09" y2="1169.40" stroke="#000" stroke-width="1.5"/>
<line x1="363.53" y1="1165.00" x2="363.53" y2="1169.40" stroke="#000" stroke-width="1.5"/>
<line x1="374.98" y1="1165.00" x2="374.98" y2="1169.40" stroke="#000" stroke-width="1.5"/>
<line x1="386.42" y1="1165.00" x2="386.42" y2="1169.40" stroke="#000" stroke-width="1.5"/>
<line x1="397.87" y1="1165.00" x2="397.87" y2="1172.50" stroke="#000" stroke-width="1.5"/>
<text transform="translate(397.87,1188.20) scale(1.03,1)" font-size="14.4" text-anchor="middle" >2000</text>
<line x1="409.32" y1="1165.00" x2="409.32" y2="1169.40" stroke="#000" stroke-width="1.5"/>
<line x1="420.76" y1="1165.00" x2="420.76" y2="1169.40" stroke="#000" stroke-width="1.5"/>
<line x1="432.21" y1="1165.00" x2="432.21" y2="1169.40" stroke="#000" stroke-width="1.5"/>
<line x1="443.65" y1="1165.00" x2="443.65" y2="1169.40" stroke="#000" stroke-width="1.5"/>
<line x1="455.10" y1="1165.00" x2="455.10" y2="1172.50" stroke="#000" stroke-width="1.5"/>
<text transform="translate(455.10,1188.20) scale(1.03,1)" font-size="14.4" text-anchor="middle" >2005</text>
<line x1="466.54" y1="1165.00" x2="466.54" y2="1169.40" stroke="#000" stroke-width="1.5"/>
<line x1="477.99" y1="1165.00" x2="477.99" y2="1169.40" stroke="#000" stroke-width="1.5"/>
<line x1="489.43" y1="1165.00" x2="489.43" y2="1169.40" stroke="#000" stroke-width="1.5"/>
<line x1="500.88" y1="1165.00" x2="500.88" y2="1169.40" stroke="#000" stroke-width="1.5"/>
<line x1="512.33" y1="1165.00" x2="512.33" y2="1172.50" stroke="#000" stroke-width="1.5"/>
<text transform="translate(512.33,1188.20) scale(1.03,1)" font-size="14.4" text-anchor="middle" >2010</text>
<line x1="523.77" y1="1165.00" x2="523.77" y2="1169.40" stroke="#000" stroke-width="1.5"/>
<line x1="535.22" y1="1165.00" x2="535.22" y2="1169.40" stroke="#000" stroke-width="1.5"/>
<line x1="546.66" y1="1165.00" x2="546.66" y2="1169.40" stroke="#000" stroke-width="1.5"/>
<line x1="558.11" y1="1165.00" x2="558.11" y2="1169.40" stroke="#000" stroke-width="1.5"/>
<line x1="569.55" y1="1165.00" x2="569.55" y2="1172.50" stroke="#000" stroke-width="1.5"/>
<text transform="translate(569.55,1188.20) scale(1.03,1)" font-size="14.4" text-anchor="middle" >2015</text>
<line x1="581.00" y1="1165.00" x2="581.00" y2="1169.40" stroke="#000" stroke-width="1.5"/>
<text x="318.00" y="820.80" font-size="17.24" text-anchor="middle" >Total Factor Productivity at Constant National Prices for Japan,</text>
<polyline points="54.50,949.00 65.95,955.25 77.39,908.75 88.84,894.00 100.28,962.50 111.73,973.75 123.17,997.50 134.62,1015.00 146.07,1020.00 157.51,1030.50 168.96,1063.00 180.40,1065.75 191.85,1077.00 203.29,1087.50 214.74,1078.75 226.18,1038.25 237.63,1049.25 249.08,1045.75 260.52,1017.50 271.97,1013.50 283.41,1009.50 294.86,1033.75 306.30,1073.75 317.75,1088.75 329.20,1110.75 340.64,1111.75 352.09,1112.00 363.53,1112.00 374.98,1138.50 386.42,1134.50 397.87,1125.00 409.32,1129.25 420.76,1125.50 432.21,1120.00 443.65,1104.00 455.10,1103.25 466.54,1104.00 477.99,1093.00 489.43,1107.50 500.88,1151.25 512.33,1104.50 523.77,1112.50 535.22,1104.50 546.66,1091.25 558.11,1102.00" fill="none" stroke="#0000ff" stroke-width="1.7" stroke-linejoin="round" stroke-linecap="butt"/>
<line x1="667.50" y1="850.15" x2="667.50" y2="1158.35" stroke="#000" stroke-width="1.5"/>
<line x1="1179.50" y1="850.15" x2="1179.50" y2="1158.35" stroke="#000" stroke-width="1.5"/>
<line x1="667.50" y1="851.00" x2="1179.50" y2="851.00" stroke="#000" stroke-width="1.7"/>
<line x1="667.50" y1="1157.50" x2="1179.50" y2="1157.50" stroke="#000" stroke-width="1.7"/>
<line x1="660.50" y1="1157.50" x2="667.50" y2="1157.50" stroke="#000" stroke-width="1.7"/>
<text transform="translate(655.50,1160.63) scale(0.975,1)" font-size="14.5" text-anchor="end" >0</text>
<line x1="660.50" y1="1113.71" x2="667.50" y2="1113.71" stroke="#000" stroke-width="1.7"/>
<text transform="translate(655.50,1116.85) scale(0.975,1)" font-size="14.5" text-anchor="end" >10,000</text>
<line x1="660.50" y1="1069.93" x2="667.50" y2="1069.93" stroke="#000" stroke-width="1.7"/>
<text transform="translate(655.50,1073.06) scale(0.975,1)" font-size="14.5" text-anchor="end" >20,000</text>
<line x1="660.50" y1="1026.14" x2="667.50" y2="1026.14" stroke="#000" stroke-width="1.7"/>
<text transform="translate(655.50,1029.28) scale(0.975,1)" font-size="14.5" text-anchor="end" >30,000</text>
<line x1="660.50" y1="982.36" x2="667.50" y2="982.36" stroke="#000" stroke-width="1.7"/>
<text transform="translate(655.50,985.49) scale(0.975,1)" font-size="14.5" text-anchor="end" >40,000</text>
<line x1="660.50" y1="938.57" x2="667.50" y2="938.57" stroke="#000" stroke-width="1.7"/>
<text transform="translate(655.50,941.70) scale(0.975,1)" font-size="14.5" text-anchor="end" >50,000</text>
<line x1="660.50" y1="894.79" x2="667.50" y2="894.79" stroke="#000" stroke-width="1.7"/>
<text transform="translate(655.50,897.92) scale(0.975,1)" font-size="14.5" text-anchor="end" >60,000</text>
<line x1="660.50" y1="851.00" x2="667.50" y2="851.00" stroke="#000" stroke-width="1.7"/>
<text transform="translate(655.50,854.13) scale(0.975,1)" font-size="14.5" text-anchor="end" >70,000</text>
<line x1="667.50" y1="1157.50" x2="667.50" y2="1165.00" stroke="#000" stroke-width="1.5"/>
<text x="667.50" y="1179.75" font-size="14.2" text-anchor="middle" >1970</text>
<line x1="678.63" y1="1157.50" x2="678.63" y2="1161.90" stroke="#000" stroke-width="1.5"/>
<line x1="689.76" y1="1157.50" x2="689.76" y2="1161.90" stroke="#000" stroke-width="1.5"/>
<line x1="700.89" y1="1157.50" x2="700.89" y2="1161.90" stroke="#000" stroke-width="1.5"/>
<line x1="712.02" y1="1157.50" x2="712.02" y2="1161.90" stroke="#000" stroke-width="1.5"/>
<line x1="723.15" y1="1157.50" x2="723.15" y2="1165.00" stroke="#000" stroke-width="1.5"/>
<text x="723.15" y="1179.75" font-size="14.2" text-anchor="middle" >1975</text>
<line x1="734.28" y1="1157.50" x2="734.28" y2="1161.90" stroke="#000" stroke-width="1.5"/>
<line x1="745.41" y1="1157.50" x2="745.41" y2="1161.90" stroke="#000" stroke-width="1.5"/>
<line x1="756.54" y1="1157.50" x2="756.54" y2="1161.90" stroke="#000" stroke-width="1.5"/>
<line x1="767.67" y1="1157.50" x2="767.67" y2="1161.90" stroke="#000" stroke-width="1.5"/>
<line x1="778.80" y1="1157.50" x2="778.80" y2="1165.00" stroke="#000" stroke-width="1.5"/>
<text x="778.80" y="1179.75" font-size="14.2" text-anchor="middle" >1980</text>
<line x1="789.93" y1="1157.50" x2="789.93" y2="1161.90" stroke="#000" stroke-width="1.5"/>
<line x1="801.07" y1="1157.50" x2="801.07" y2="1161.90" stroke="#000" stroke-width="1.5"/>
<line x1="812.20" y1="1157.50" x2="812.20" y2="1161.90" stroke="#000" stroke-width="1.5"/>
<line x1="823.33" y1="1157.50" x2="823.33" y2="1161.90" stroke="#000" stroke-width="1.5"/>
<line x1="834.46" y1="1157.50" x2="834.46" y2="1165.00" stroke="#000" stroke-width="1.5"/>
<text x="834.46" y="1179.75" font-size="14.2" text-anchor="middle" >1985</text>
<line x1="845.59" y1="1157.50" x2="845.59" y2="1161.90" stroke="#000" stroke-width="1.5"/>
<line x1="856.72" y1="1157.50" x2="856.72" y2="1161.90" stroke="#000" stroke-width="1.5"/>
<line x1="867.85" y1="1157.50" x2="867.85" y2="1161.90" stroke="#000" stroke-width="1.5"/>
<line x1="878.98" y1="1157.50" x2="878.98" y2="1161.90" stroke="#000" stroke-width="1.5"/>
<line x1="890.11" y1="1157.50" x2="890.11" y2="1165.00" stroke="#000" stroke-width="1.5"/>
<text x="890.11" y="1179.75" font-size="14.2" text-anchor="middle" >1990</text>
<line x1="901.24" y1="1157.50" x2="901.24" y2="1161.90" stroke="#000" stroke-width="1.5"/>
<line x1="912.37" y1="1157.50" x2="912.37" y2="1161.90" stroke="#000" stroke-width="1.5"/>
<line x1="923.50" y1="1157.50" x2="923.50" y2="1161.90" stroke="#000" stroke-width="1.5"/>
<line x1="934.63" y1="1157.50" x2="934.63" y2="1161.90" stroke="#000" stroke-width="1.5"/>
<line x1="945.76" y1="1157.50" x2="945.76" y2="1165.00" stroke="#000" stroke-width="1.5"/>
<text x="945.76" y="1179.75" font-size="14.2" text-anchor="middle" >1995</text>
<line x1="956.89" y1="1157.50" x2="956.89" y2="1161.90" stroke="#000" stroke-width="1.5"/>
<line x1="968.02" y1="1157.50" x2="968.02" y2="1161.90" stroke="#000" stroke-width="1.5"/>
<line x1="979.15" y1="1157.50" x2="979.15" y2="1161.90" stroke="#000" stroke-width="1.5"/>
<line x1="990.28" y1="1157.50" x2="990.28" y2="1161.90" stroke="#000" stroke-width="1.5"/>
<line x1="1001.41" y1="1157.50" x2="1001.41" y2="1165.00" stroke="#000" stroke-width="1.5"/>
<text x="1001.41" y="1179.75" font-size="14.2" text-anchor="middle" >2000</text>
<line x1="1012.54" y1="1157.50" x2="1012.54" y2="1161.90" stroke="#000" stroke-width="1.5"/>
<line x1="1023.67" y1="1157.50" x2="1023.67" y2="1161.90" stroke="#000" stroke-width="1.5"/>
<line x1="1034.80" y1="1157.50" x2="1034.80" y2="1161.90" stroke="#000" stroke-width="1.5"/>
<line x1="1045.93" y1="1157.50" x2="1045.93" y2="1161.90" stroke="#000" stroke-width="1.5"/>
<line x1="1057.07" y1="1157.50" x2="1057.07" y2="1165.00" stroke="#000" stroke-width="1.5"/>
<text x="1057.07" y="1179.75" font-size="14.2" text-anchor="middle" >2005</text>
<line x1="1068.20" y1="1157.50" x2="1068.20" y2="1161.90" stroke="#000" stroke-width="1.5"/>
<line x1="1079.33" y1="1157.50" x2="1079.33" y2="1161.90" stroke="#000" stroke-width="1.5"/>
<line x1="1090.46" y1="1157.50" x2="1090.46" y2="1161.90" stroke="#000" stroke-width="1.5"/>
<line x1="1101.59" y1="1157.50" x2="1101.59" y2="1161.90" stroke="#000" stroke-width="1.5"/>
<line x1="1112.72" y1="1157.50" x2="1112.72" y2="1165.00" stroke="#000" stroke-width="1.5"/>
<text x="1112.72" y="1179.75" font-size="14.2" text-anchor="middle" >2010</text>
<line x1="1123.85" y1="1157.50" x2="1123.85" y2="1161.90" stroke="#000" stroke-width="1.5"/>
<line x1="1134.98" y1="1157.50" x2="1134.98" y2="1161.90" stroke="#000" stroke-width="1.5"/>
<line x1="1146.11" y1="1157.50" x2="1146.11" y2="1161.90" stroke="#000" stroke-width="1.5"/>
<line x1="1157.24" y1="1157.50" x2="1157.24" y2="1161.90" stroke="#000" stroke-width="1.5"/>
<line x1="1168.37" y1="1157.50" x2="1168.37" y2="1165.00" stroke="#000" stroke-width="1.5"/>
<text x="1168.37" y="1179.75" font-size="14.2" text-anchor="middle" >2015</text>
<line x1="1179.50" y1="1157.50" x2="1179.50" y2="1161.90" stroke="#000" stroke-width="1.5"/>
<text x="921.50" y="821.00" font-size="16.78" text-anchor="middle" >Outward FDI Manufacturing Japan (total)</text>
<polyline points="678.63,1156.50 689.76,1155.25 700.89,1151.25 712.02,1153.75 723.15,1153.50 734.28,1153.00 745.41,1152.75 756.54,1148.75 767.67,1150.25 778.80,1150.25 789.93,1147.75 801.07,1148.50 812.20,1146.50 823.33,1146.75 834.46,1147.25 845.59,1140.75 856.72,1122.75 867.85,1097.00 878.98,1086.50 890.11,1089.50 901.24,1103.75 912.37,1113.50 923.50,1109.50 934.63,1097.50 945.76,1075.00 956.89,1069.25 968.02,1073.00 979.15,1104.25 990.28,972.00 1001.41,1106.25 1012.54,1095.50 1023.67,1093.50 1034.80,1086.75 1045.93,1097.50 1057.07,1041.25 1068.20,1005.00 1079.33,983.75 1090.46,959.50 1101.59,1016.25 1112.72,1080.00 1123.85,903.25 1134.98,942.50 1146.11,971.75 1157.24,871.25 1168.37,935.00" fill="none" stroke="#0000ff" stroke-width="1.7" stroke-linejoin="round" stroke-linecap="butt"/>
<rect x="71.5" y="362.5" width="448.0" height="42.5" fill="#fff" stroke="#000" stroke-width="1.5"/>
<line x1="79.50" y1="375.30" x2="108.50" y2="375.30" stroke="#0000ff" stroke-width="1.6"/>
<text transform="translate(115.00,378.90) scale(0.981,1)" font-size="14.1" text-anchor="start" >Share of manufacturing in total number of employed persons (%)</text>
<line x1="79.50" y1="393.00" x2="108.50" y2="393.00" stroke="#ff0000" stroke-width="1.6"/>
<text transform="translate(115.00,396.30) scale(0.981,1)" font-size="14.1" text-anchor="start" >Real effective Yen exchange rate (RHS)</text>
<line x1="0.90" y1="0.00" x2="0.90" y2="1192.00" stroke="#000" stroke-width="1.8"/>
<line x1="0.00" y1="0.50" x2="1200.00" y2="0.50" stroke="#000" stroke-width="1.2"/>
<line x1="1199.15" y1="0.00" x2="1199.15" y2="1192.00" stroke="#000" stroke-width="1.7"/>
<line x1="0.00" y1="1191.50" x2="1200.00" y2="1191.50" stroke="#000" stroke-width="2"/>
<line x1="598.00" y1="0.00" x2="598.00" y2="1192.00" stroke="#222" stroke-width="2"/>
<line x1="0.00" y1="405.00" x2="1200.00" y2="405.00" stroke="#000" stroke-width="2"/>
<line x1="0.00" y1="805.00" x2="1200.00" y2="805.00" stroke="#000" stroke-width="2"/>
<text x="0.5" y="1219" font-size="25.5" font-style="italic" textLength="86" lengthAdjust="spacingAndGlyphs">Source:</text>
<text x="94.5" y="1219" font-size="25.5" font-style="italic" textLength="113.5" lengthAdjust="spacingAndGlyphs">Compiled</text>
<text x="213" y="1219" font-size="25.5" font-style="italic" textLength="25" lengthAdjust="spacingAndGlyphs">by</text>
<text x="246" y="1219" font-size="25.5" font-style="italic" textLength="95.5" lengthAdjust="spacingAndGlyphs">authors.</text>
</svg></body></html>
